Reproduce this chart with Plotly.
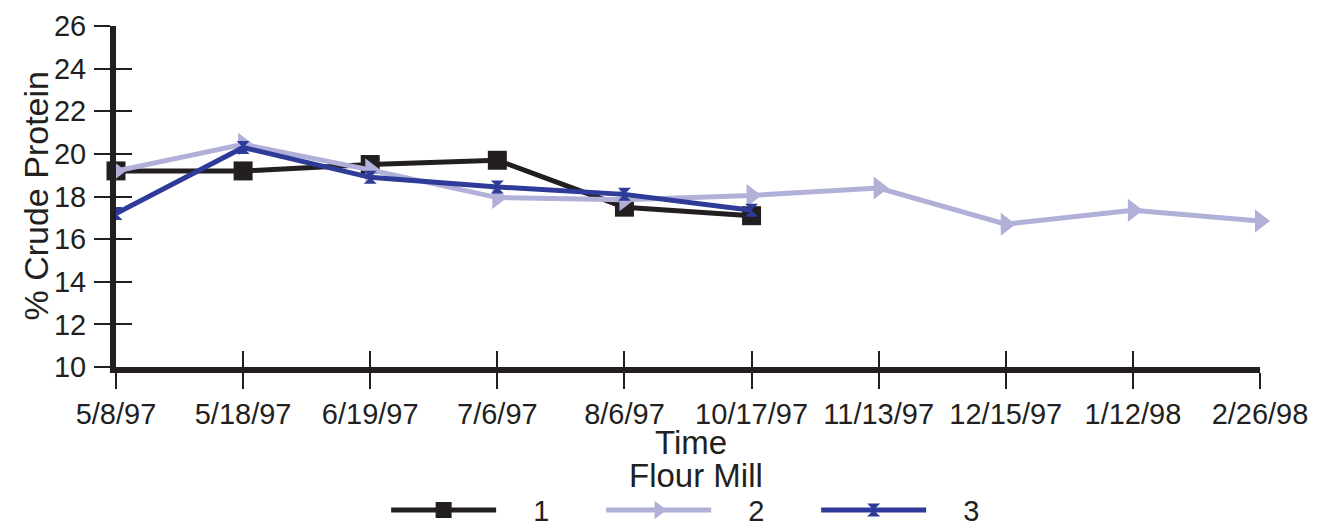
import plotly.graph_objects as go

dates = ["5/8/97", "5/18/97", "6/19/97", "7/6/97", "8/6/97", "10/17/97",
         "11/13/97", "12/15/97", "1/12/98", "2/26/98"]
mill1 = [19.2, 19.2, 19.5, 19.7, 17.5, 17.1]
mill2 = [19.2, 20.45, 19.25, 17.95, 17.85, 18.05, 18.4, 16.7, 17.35, 16.85]
mill3 = [17.2, 20.3, 18.9, 18.45, 18.1, 17.35]
yticks = [10, 12, 14, 16, 18, 20, 22, 24, 26]
names = ["1", "2", "3"]

xi = list(range(len(dates)))
FONT = "Liberation Sans, Arial, sans-serif"
BLACK = "#231f20"
LAV = "#b0b0d8"
BLUE = "#2e3b98"
PAD = "\u00a0" * 4  # gap between legend line and its label

fig = go.Figure()
fig.add_trace(go.Scatter(x=xi[:len(mill1)], y=mill1, name=PAD + names[0], mode="lines+markers",
                         line=dict(color=BLACK, width=5),
                         marker=dict(symbol="square", size=19, color=BLACK),
                         cliponaxis=False))
fig.add_trace(go.Scatter(x=xi[:len(mill2)], y=mill2, name=PAD + names[1], mode="lines+markers",
                         line=dict(color=LAV, width=5),
                         marker=dict(symbol="triangle-right", size=20, color=LAV),
                         cliponaxis=False))
fig.add_trace(go.Scatter(x=xi[:len(mill3)], y=mill3, name=PAD + names[2], mode="lines+markers",
                         line=dict(color=BLUE, width=5),
                         marker=dict(symbol="hourglass", size=13, color=BLUE),
                         cliponaxis=False))
# invisible trace to host the overlay axes (inside half of crossing ticks)
fig.add_trace(go.Scatter(x=[0], y=[10], xaxis="x2", yaxis="y2", mode="markers",
                         marker=dict(opacity=0), showlegend=False, hoverinfo="skip"))

fig.update_layout(
    width=1313, height=521,
    margin=dict(l=108, r=61, t=18, b=162),
    paper_bgcolor="white", plot_bgcolor="white",
    font=dict(family=FONT, size=29, color=BLACK),
    xaxis=dict(range=[0, 9], tickvals=xi, ticktext=dates, showgrid=False, zeroline=False,
               showline=True, linecolor=BLACK, linewidth=6, ticks="outside", ticklen=16,
               tickwidth=2, tickcolor=BLACK, automargin=False, tickfont=dict(size=29)),
    yaxis=dict(range=[10, 26], tickvals=yticks, showgrid=False, zeroline=False,
               showline=True, linecolor=BLACK, linewidth=6, ticks="outside", ticklen=16,
               tickwidth=2, tickcolor=BLACK, automargin=False, tickfont=dict(size=29),
               ticklabelstandoff=2),
    xaxis2=dict(range=[0, 9], tickvals=xi, overlaying="x", anchor="y2", showgrid=False,
                zeroline=False, showline=False, ticks="inside", ticklen=16, tickwidth=2,
                tickcolor=BLACK, showticklabels=False, side="bottom"),
    yaxis2=dict(range=[10, 26], tickvals=yticks, overlaying="y", anchor="x2", showgrid=False,
                zeroline=False, showline=False, ticks="inside", ticklen=16, tickwidth=2,
                tickcolor=BLACK, showticklabels=False, side="left"),
    legend=dict(orientation="h", x=0.288, xanchor="left", xref="container",
                y=0.036, yanchor="middle", yref="container",
                font=dict(size=29), itemwidth=105, entrywidth=95, tracegroupgap=0),
    showlegend=True,
    annotations=[
        dict(text="% Crude Protein", xref="paper", yref="paper", x=0, y=0.5,
             xanchor="center", yanchor="middle", xshift=-81, textangle=-90,
             showarrow=False, font=dict(size=34)),
        dict(text="Time", xref="paper", yref="paper", x=0.5, y=0,
             xanchor="center", yanchor="middle", yshift=-75, xshift=3,
             showarrow=False, font=dict(size=33)),
        dict(text="Flour Mill", xref="paper", yref="paper", x=0.5, y=0,
             xanchor="center", yanchor="middle", yshift=-108, xshift=8,
             showarrow=False, font=dict(size=33)),
    ],
)
fig.write_html("out.html")
